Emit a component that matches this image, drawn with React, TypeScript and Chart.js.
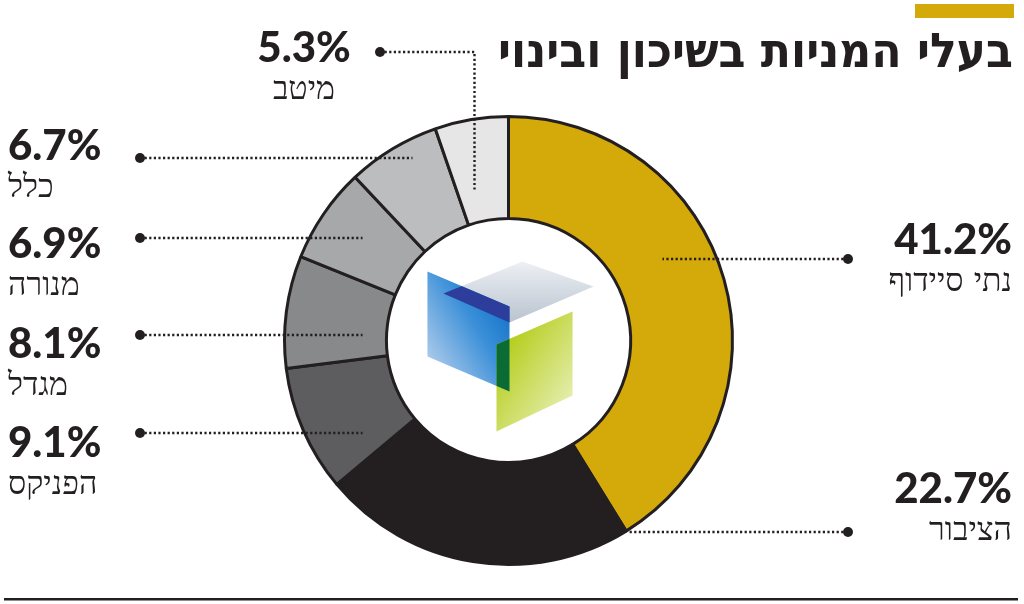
import React, { useEffect, useRef } from "react";
import { Chart, registerables } from "chart.js";

Chart.register(...registerables);

// ---- data ----
const TITLE = "בעלי המניות בשיכון ובינוי";
const LABELS = ["נתי סיידוף", "הציבור", "הפניקס", "מגדל", "מנורה", "כלל", "מיטב"];
const VALUES = [41.2, 22.7, 9.1, 8.1, 6.9, 6.7, 5.3];
const COLORS = ["#d4a90a", "#231f20", "#5d5d5f", "#88898b", "#a7a8aa", "#bcbdbf", "#e6e6e7"];

// ---- callout layout (page px for text/dots; leader end relative to centre at R=224) ----
type Callout = {
  align: CanvasTextAlign;
  tx: number;
  ty: number;
  dot: [number, number];
  elbowDx?: number;
  end: [number, number];
};
const CALLOUTS: Callout[] = [
  { align: "right", tx: 1012, ty: 254, dot: [848, 259], end: [154, -82] },
  { align: "right", tx: 1012, ty: 503, dot: [848, 532], end: [119, 191] },
  { align: "left", tx: 8, ty: 457, dot: [140, 433], end: [-146, 92] },
  { align: "left", tx: 8, ty: 358, dot: [140, 335], end: [-146, -6] },
  { align: "left", tx: 8, ty: 258, dot: [140, 238], end: [-146, -103] },
  { align: "left", tx: 8, ty: 160, dot: [140, 158], end: [-96, -183] },
  { align: "center", tx: 304, ty: 62, dot: [380, 52], elbowDx: -34, end: [-34, -151] },
];

const INK = "#231f20";
const GOLD = "#d4a90a";

function poly(ctx: CanvasRenderingContext2D, pts: number[][], cx: number, cy: number, s: number) {
  ctx.beginPath();
  pts.forEach((p, i) => {
    const x = cx + p[0] * s;
    const y = cy + p[1] * s;
    if (i === 0) ctx.moveTo(x, y);
    else ctx.lineTo(x, y);
  });
  ctx.closePath();
}

const decorPlugin = {
  id: "decor",
  afterDraw(chart: any) {
    const ctx: CanvasRenderingContext2D = chart.ctx;
    const arc = chart.getDatasetMeta(0).data[0];
    const cx = arc.x;
    const cy = arc.y;
    const R = arc.outerRadius;
    const r = arc.innerRadius;
    const sR = R / 224;
    const s = r / 122;

    // ---- centre logo ----
    const top = [[-65, -47], [14, -79], [85, -54], [1, -18]];
    const blue = [[-81, -69], [1, -34], [1, 51], [-81, 16]];
    const green = [[-12, 4], [64, -29], [64, 55], [-12, 91]];
    ctx.save();
    ctx.lineJoin = "round";
    let g = ctx.createLinearGradient(cx, cy - 80 * s, cx, cy - 18 * s);
    g.addColorStop(0, "#eef1f5");
    g.addColorStop(1, "#b9c3cf");
    poly(ctx, top, cx, cy, s);
    ctx.fillStyle = g;
    ctx.fill();
    g = ctx.createLinearGradient(cx - 81 * s, cy + 16 * s, cx + 1 * s, cy - 34 * s);
    g.addColorStop(0, "#a9c9ea");
    g.addColorStop(0.6, "#3a8fd8");
    g.addColorStop(1, "#1273c8");
    poly(ctx, blue, cx, cy, s);
    ctx.fillStyle = g;
    ctx.fill();
    g = ctx.createLinearGradient(cx - 12 * s, cy + 10 * s, cx + 64 * s, cy + 60 * s);
    g.addColorStop(0, "#b3cc16");
    g.addColorStop(1, "#e6eeb0");
    poly(ctx, green, cx, cy, s);
    ctx.fillStyle = g;
    ctx.fill();
    ctx.save();
    poly(ctx, blue, cx, cy, s);
    ctx.clip();
    poly(ctx, top, cx, cy, s);
    ctx.fillStyle = "#2c3d9c";
    ctx.fill();
    ctx.restore();
    ctx.save();
    poly(ctx, green, cx, cy, s);
    ctx.clip();
    poly(ctx, blue, cx, cy, s);
    ctx.fillStyle = "#0b6b34";
    ctx.fill();
    ctx.restore();
    ctx.restore();

    // ---- callouts ----
    ctx.save();
    CALLOUTS.forEach((c, i) => {
      const ey = cy + c.end[1] * sR;
      const ex = cx + c.end[0] * sR;
      ctx.strokeStyle = INK;
      ctx.lineWidth = 2.4;
      ctx.setLineDash([2.2, 2.4]);
      ctx.beginPath();
      ctx.moveTo(c.dot[0], c.dot[1]);
      if (c.elbowDx !== undefined) {
        const bx = cx + c.elbowDx * sR;
        ctx.lineTo(bx, c.dot[1]);
        ctx.lineTo(bx, ey);
      } else {
        ctx.lineTo(ex, c.dot[1]);
      }
      ctx.stroke();
      ctx.setLineDash([]);
      ctx.fillStyle = INK;
      ctx.beginPath();
      ctx.arc(c.dot[0], c.dot[1], 5, 0, Math.PI * 2);
      ctx.fill();

      ctx.fillStyle = INK;
      ctx.textAlign = c.align;
      ctx.textBaseline = "alphabetic";
      ctx.direction = "ltr";
      ctx.font = "900 42px Lato";
      ctx.fillText(`${VALUES[i]}%`, c.tx, c.ty);
      ctx.direction = "rtl";
      ctx.font = '200 32px "DejaVu Sans"';
      ctx.fillText(LABELS[i], c.tx, c.ty + 37);
    });
    ctx.restore();

    // ---- title, bar, rule ----
    ctx.save();
    ctx.fillStyle = GOLD;
    ctx.fillRect(915, 4, 99, 14);
    ctx.fillStyle = INK;
    ctx.direction = "rtl";
    ctx.textAlign = "right";
    ctx.font = 'bold 48px "DejaVu Sans Condensed"';
    const w = ctx.measureText(TITLE).width;
    const sx = 515 / w;
    ctx.translate(1013, 67);
    ctx.scale(sx, 1);
    ctx.fillText(TITLE, 0, 0);
    ctx.restore();
    ctx.save();
    ctx.fillStyle = INK;
    ctx.fillRect(4, 598, 1014, 2.5);
    ctx.restore();
  },
};

export default function App() {
  const ref = useRef<HTMLCanvasElement | null>(null);
  useEffect(() => {
    if (!ref.current) return;
    const chart = new Chart(ref.current, {
      type: "doughnut",
      data: {
        labels: LABELS,
        datasets: [
          {
            data: VALUES,
            backgroundColor: COLORS,
            borderColor: INK,
            borderWidth: 3,
          },
        ],
      },
      options: {
        responsive: false,
        animation: false,
        cutout: "54.5%",
        layout: { padding: { left: 283, right: 290, top: 115, bottom: 38 } },
        plugins: { legend: { display: false }, tooltip: { enabled: false } },
      },
      plugins: [decorPlugin],
    });
    return () => chart.destroy();
  }, []);
  return (
    <div style={{ position: "absolute", left: 0, top: 0, width: 1024, height: 604, background: "#fff" }}>
      <canvas ref={ref} width={1024} height={604} style={{ width: 1024, height: 604 }} />
    </div>
  );
}
